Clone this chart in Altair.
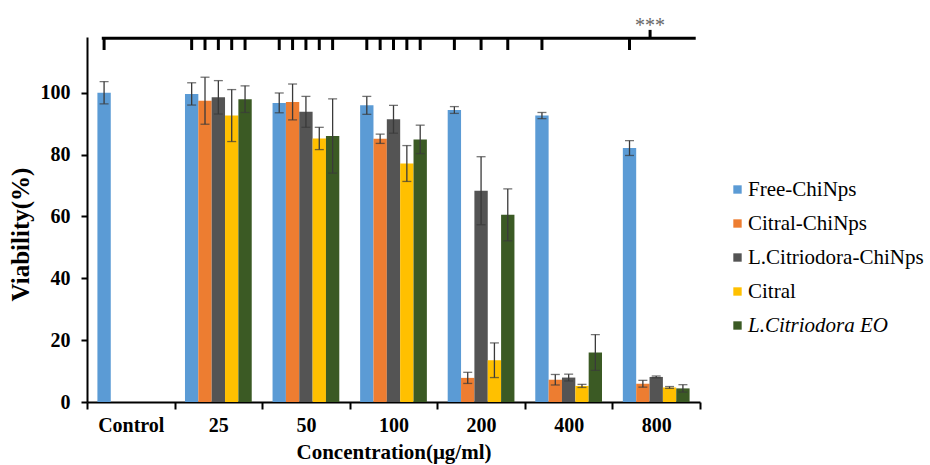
import altair as alt
import pandas as pd

concs = ["Control", "25", "50", "100", "200", "400", "800"]
series = ["Free-ChiNps", "Citral-ChiNps", "L.Citriodora-ChiNps", "Citral", "L.Citriodora EO"]
colors = ["#5B9BD5", "#ED7D31", "#545454", "#FFC000", "#3B5A24"]

free_vals = [100.0, 99.6, 96.7, 95.9, 94.4, 92.6, 82.1]
free_err = [3.6, 3.6, 3.2, 2.9, 1.1, 1.0, 2.4]
citral_np_vals = [None, 97.4, 97.0, 85.1, 7.8, 7.2, 5.9]
citral_np_err = [None, 7.6, 5.8, 1.5, 1.8, 1.7, 1.1]
lc_np_vals = [None, 98.5, 93.8, 91.4, 68.3, 7.9, 8.1]
lc_np_err = [None, 5.4, 5.0, 4.5, 11.0, 1.1, 0.3]
citral_vals = [None, 92.6, 85.2, 77.1, 13.5, 5.2, 4.7]
citral_err = [None, 8.4, 3.6, 5.8, 5.6, 0.5, 0.3]
eo_vals = [None, 97.9, 86.0, 84.9, 60.5, 16.0, 4.4]
eo_err = [None, 4.3, 12.0, 4.6, 8.4, 5.8, 1.2]

# significance bracket: groups whose bars are joined by the bracket
bracket_conc = ["Control", "25", "25", "25", "25", "25", "50", "50", "50", "50", "50",
                "100", "100", "100", "100", "100", "200", "200", "200", "400", "800"]
bracket_series = ["Free-ChiNps",
                  "Free-ChiNps", "Citral-ChiNps", "L.Citriodora-ChiNps", "Citral", "L.Citriodora EO",
                  "Free-ChiNps", "Citral-ChiNps", "L.Citriodora-ChiNps", "Citral", "L.Citriodora EO",
                  "Free-ChiNps", "Citral-ChiNps", "L.Citriodora-ChiNps", "Citral", "L.Citriodora EO",
                  "Free-ChiNps", "L.Citriodora-ChiNps", "L.Citriodora EO",
                  "Free-ChiNps", "Free-ChiNps"]
sig_conc = ["800"]
sig_text = ["***"]

all_vals = [free_vals, citral_np_vals, lc_np_vals, citral_vals, eo_vals]
all_errs = [free_err, citral_np_err, lc_np_err, citral_err, eo_err]
rows = []
for s, vals, errs in zip(series, all_vals, all_errs):
    for c, v, e in zip(concs, vals, errs):
        if v is None:
            continue
        rows.append({"conc": c, "series": s, "value": v, "lo": v - e, "hi": v + e})
df = pd.DataFrame(rows)
bk = pd.DataFrame({"conc": bracket_conc, "series": bracket_series})
line_df = pd.DataFrame({"conc": [concs[0]], "conc_end": [concs[-1]]})
sig_df = pd.DataFrame({"conc": sig_conc, "label": sig_text})

FONT = "Liberation Serif"
XTITLE = "Concentration(μg/ml)"
YTITLE = "Viability(%)"

xscale = alt.Scale(domain=concs, paddingInner=0, paddingOuter=0)
xaxis = alt.Axis(labelFont=FONT, labelFontWeight="bold", labelFontSize=20, labelColor="black",
                 labelAngle=0, labelPadding=6, tickBand="extent", tickSize=7, tickWidth=2,
                 tickColor="black", domainColor="black", domainWidth=2,
                 titleFont=FONT, titleFontSize=21, titleFontWeight="bold", titleColor="black",
                 titlePadding=6)
yscale = alt.Scale(domain=[0, 118], nice=False, zero=True)
yaxis = alt.Axis(values=[0, 20, 40, 60, 80, 100], labelFont=FONT, labelFontWeight="bold",
                 labelFontSize=20, labelColor="black", labelPadding=11, tickSize=6, tickWidth=2,
                 tickColor="black", domainColor="black", domainWidth=2, grid=False,
                 titleFont=FONT, titleFontSize=25, titleFontWeight="bold", titleColor="black",
                 titlePadding=7, titleY=197)
xo = alt.XOffset("series:N", sort=series,
                 scale=alt.Scale(domain=series, paddingInner=0, paddingOuter=0.78))

X = alt.X("conc:N", sort=concs, scale=xscale, axis=xaxis, title=XTITLE)

bars = alt.Chart(df).mark_bar().encode(
    x=X,
    xOffset=xo,
    y=alt.Y("value:Q", scale=yscale, axis=yaxis, title=YTITLE),
    color=alt.Color("series:N", sort=series, scale=alt.Scale(domain=series, range=colors),
                    legend=alt.Legend(title=None, orient="none", legendX=640, legendY=142,
                                      symbolType="square", symbolSize=70, symbolStrokeWidth=0,
                                      labelFont=alt.ExprRef("'Liberation Serif'"),
                                      labelFontSize=21, labelColor="black",
                                      labelLimit=300, rowPadding=12, labelOffset=0,
                                      labelFontStyle=alt.ExprRef(
                                          "datum.label == 'L.Citriodora EO' ? 'italic' : 'normal'"))),
)

err_rule = alt.Chart(df).mark_rule(color="#3a3a3a", strokeWidth=1.3).encode(
    x=X, xOffset=xo,
    y=alt.Y("lo:Q", scale=yscale, title=YTITLE), y2="hi:Q",
)
cap_hi = alt.Chart(df).mark_tick(color="#3a3a3a", thickness=1.3, size=9).encode(
    x=X, xOffset=xo, y=alt.Y("hi:Q", scale=yscale, title=YTITLE),
)
cap_lo = alt.Chart(df).mark_tick(color="#3a3a3a", thickness=1.3, size=9).encode(
    x=X, xOffset=xo, y=alt.Y("lo:Q", scale=yscale, title=YTITLE),
)

bk_ticks = alt.Chart(bk).mark_rule(color="black", strokeWidth=3).encode(
    x=X, xOffset=xo, y=alt.datum(117.6), y2=alt.datum(113.8),
)
bk_line = alt.Chart(line_df).mark_rule(color="black", strokeWidth=3, strokeCap="square").encode(
    x=alt.X("conc:N", sort=concs, scale=xscale, axis=xaxis, title=XTITLE, bandPosition=0.186),
    x2=alt.X2("conc_end:N", bandPosition=0.934),
    y=alt.datum(117.6),
)
sig_tick = alt.Chart(sig_df).mark_rule(color="black", strokeWidth=3).encode(
    x=alt.X("conc:N", sort=concs, scale=xscale, axis=xaxis, title=XTITLE, bandPosition=0.43),
    y=alt.datum(117.6), y2=alt.datum(120.3),
)
sig_txt = alt.Chart(sig_df).mark_text(font=FONT, fontSize=20, color="#666666",
                                      baseline="alphabetic").encode(
    x=alt.X("conc:N", sort=concs, scale=xscale, axis=xaxis, title=XTITLE, bandPosition=0.43),
    y=alt.datum(119.7),
    text="label:N",
)

chart = alt.layer(bars, err_rule, cap_hi, cap_lo, bk_ticks, bk_line, sig_tick, sig_txt).properties(
    width=613, height=365,
    autosize=alt.AutoSizeParams(type="none"),
    padding={"left": 87, "top": 37, "right": 230, "bottom": 63},
    background="white",
).configure_view(stroke=None).configure_axis(grid=False)

chart.save("out.html", embed_options={"renderer": "svg", "actions": False})
